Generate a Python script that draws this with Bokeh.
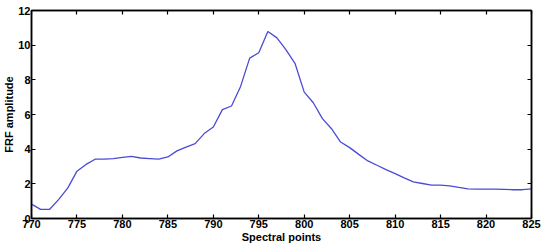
from bokeh.plotting import figure
from bokeh.models import FixedTicker, LinearAxis, Range1d
from bokeh.embed import file_html
from bokeh.resources import INLINE

spectral_points = list(range(770, 826))
frf_amplitude = [
    0.83, 0.53, 0.53, 1.10, 1.77, 2.73, 3.12, 3.42, 3.42, 3.45,
    3.53, 3.59, 3.49, 3.46, 3.42, 3.55, 3.90, 4.12, 4.32, 4.90,
    5.28, 6.28, 6.49, 7.62, 9.25, 9.56, 10.79, 10.42, 9.73, 8.93,
    7.29, 6.68, 5.76, 5.18, 4.41, 4.09, 3.70, 3.32, 3.07, 2.82,
    2.59, 2.34, 2.11, 2.02, 1.93, 1.92, 1.88, 1.79, 1.71, 1.70,
    1.70, 1.70, 1.68, 1.66, 1.66, 1.71,
]
x_ticks = [770, 775, 780, 785, 790, 795, 800, 805, 810, 815, 820, 825]
y_ticks = [0, 2, 4, 6, 8, 10, 12]

FONT = "Liberation Sans"

p = figure(frame_width=500, frame_height=208, output_backend="svg", toolbar_location=None,
           x_range=Range1d(770, 825), y_range=Range1d(0, 12),
           min_border_left=30, min_border_right=13, min_border_top=10, min_border_bottom=32)
p.background_fill_color = "white"
p.border_fill_color = "white"
p.outline_line_color = "black"
p.outline_line_width = 1.5
p.xgrid.visible = False
p.ygrid.visible = False

p.line(spectral_points, frf_amplitude, line_color="#4b4bd6", line_width=1.3)

def style(ax, ticks, labels=True):
    ax.ticker = FixedTicker(ticks=ticks)
    ax.major_tick_in = 4
    ax.major_tick_out = 0
    ax.minor_tick_in = 0
    ax.minor_tick_out = 0
    ax.axis_line_color = "black"
    ax.axis_line_width = 1.5
    ax.major_tick_line_color = "black"
    ax.major_tick_line_width = 1.2
    if labels:
        ax.major_label_text_font = FONT
        ax.major_label_text_font_style = "bold"
        ax.major_label_text_font_size = "11px"
        ax.major_label_text_color = "black"
        ax.major_label_standoff = 1
        ax.axis_label_text_font = FONT
        ax.axis_label_text_font_style = "bold"
        ax.axis_label_text_font_size = "11px"
        ax.axis_label_text_color = "black"
        ax.axis_label_standoff = 0
    else:
        ax.major_label_overrides = {t: "" for t in ticks}
        ax.major_label_standoff = 0

style(p.xaxis[0], x_ticks)
style(p.yaxis[0], y_ticks)
p.xaxis[0].axis_label = "Spectral points"
p.yaxis[0].axis_label = "FRF amplitude"

top = LinearAxis()
style(top, x_ticks, labels=False)
p.add_layout(top, "above")
right = LinearAxis()
style(right, y_ticks, labels=False)
p.add_layout(right, "right")

open("out.html", "w").write(file_html(p, INLINE))
